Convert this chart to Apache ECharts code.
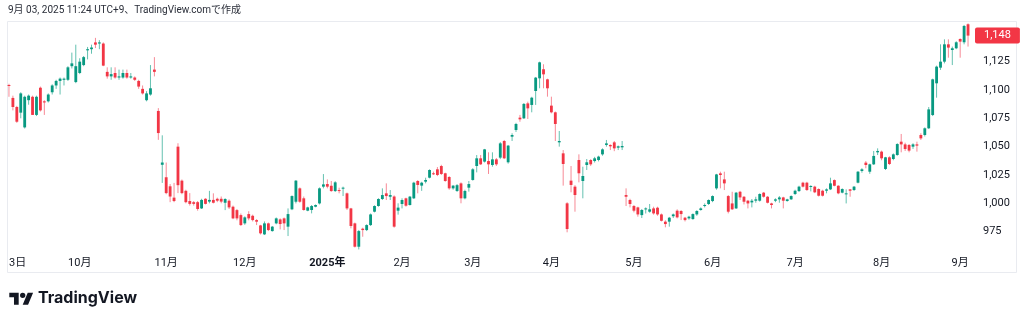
<!DOCTYPE html>
<html>
<head>
<meta charset="utf-8">
<script src="https://cdn.jsdelivr.net/npm/echarts@6/dist/echarts.min.js"></script>
<style>
  html, body { margin: 0; padding: 0; background: #ffffff; }
  #chart { width: 1024px; height: 322px; }
</style>
</head>
<body>
<div id="chart"></div>
<script>
// Daily candles, [open, high, low, close]
const candles = [
  // 2024-09
  [1104.4,1105.5,1094,1103.5],[1093,1095,1082,1085],[1085,1086,1071,1072],[1080,1098,1075,1097],
  [1067,1095,1066,1094],[1091,1096,1087,1095],[1094,1095,1078,1078],[1078,1095,1077,1094],
  [1102,1103,1081,1082],[1090,1091,1078,1089],[1090,1097,1089,1096],[1098,1105,1096,1104],
  [1104,1109,1101,1108],[1108,1111,1096,1110],[1109,1111,1104,1110],[1109,1121,1108,1120],
  [1121,1133,1119,1123.5],[1107,1140,1106,1121],
  // 2024-10
  [1115,1128,1114,1125],[1122,1130,1121,1129],[1135,1138,1127,1136],[1136,1140,1132,1137.5],
  [1142,1146,1137,1140],[1141,1144,1136,1142],[1141,1142,1121,1121.5],[1116,1120,1110,1112],
  [1112,1120,1109,1114],[1115,1120,1110,1111],[1111,1118,1109,1112],[1111,1118,1110,1115],
  [1115,1118,1110,1111],[1111,1115,1110,1112],[1111,1112,1108,1109],[1108,1109,1101,1103],
  [1101,1104,1096,1097],[1091,1099,1090,1097],[1096,1122,1095,1101.5],[1118,1129,1112,1116],
  [1081.5,1084,1056,1062],[1034,1060,1018,1036],
  // 2024-11
  [1023,1036,1008,1009],[1015,1017,1001,1006],[1005,1018,1001,1002],[1050,1053,1009,1016],
  [1020,1021,1008,1009],[1011,1012,1000,1001],[1002,1009,998,999.5],[1001,1002,998,999.5],
  [1001,1002,993.5,995],[995.5,1004,995,1003],[1004,1004.5,999,999.5],[1001.5,1011,1000,1003],
  [1003,1008.8,999.9,1000.5],[1004,1005,1001,1002.3],[1004,1006,1000,1001.5],[1000.5,1004.5,994,1003.8],
  [1002.3,1003.5,995,996.4],[997,998,986,986.7],[994,995,985,986.7],[989.6,991,980,980.8],
  // 2024-12
  [982.3,988.5,981,987.6],[990.5,993,985,986.7],[989,990,984,985.2],[985.2,986,980.8,983.8],
  [980.5,981,972.5,973.5],[972.6,984,972,982.3],[982.3,983,975.5,976.4],[975.5,980,975,979.4],
  [982.3,987.5,981.5,986.7],[985.8,986.7,977,981.7],[986.7,987.5,976.4,982.3],[979.4,995.5,971.1,990.5],
  [994.7,1007,994,1006.4],[1001.4,1020.5,999.9,1020],[1013.2,1014,1000.5,1001.4],[1004.4,1006,993.5,994.1],
  [993.5,997,993,996.4],[994.1,998.5,991.1,997.6],[997,999,996.5,998.5],[999.9,1014,999,1013.2],
  [1014.7,1025.8,1013.2,1016.7],
  // 2025-01
  [1017,1021.1,1013.2,1014.7],[1015.5,1019.7,1010.2,1010.8],[1010.8,1019.5,1010,1018.5],[1011.7,1013.8,1008.8,1010.8],
  [1013.2,1014.7,1006.4,1013.8],[1008.8,1009.5,994.1,995.5],[995.5,996,977.9,980],[982.3,983,961,961.7],
  [961.7,976.5,959.3,975.5],[977.6,978.5,970.5,976.4],[976.4,981.5,975.5,980.8],[980.8,991,980,990.2],
  [992.6,998.2,992,997.6],[997.6,1004.5,997,1003.8],[1003.8,1013.2,1002.9,1007.3],[1008.8,1017.6,1002.9,1006.4],
  [1005.8,1011.7,1002.9,1007.3],[1006,1007,978.5,979.4],[993.5,1000,990,996.2],
  // 2025-02
  [999.4,1004.4,995.5,1002.9],[1004.4,1005,997,997.9],[998.5,1006.5,998,1005.9],[1004.4,1019,1003.8,1018.2],
  [1019.7,1020.5,1008.8,1016.2],[1015.6,1019,1011,1018.2],[1019.1,1022.6,1017.6,1020.6],[1022.6,1030,1022,1029.4],
  [1026.5,1028,1025,1025.6],[1030,1032,1024,1025],[1032.9,1034,1025,1025.9],[1026.5,1027,1019,1019.7],
  [1023.2,1024,1012,1013.2],[1013.2,1016,1012,1015.6],[1010.9,1017,1010,1016],[1017.6,1018.5,1000,1004.4],
  [1004.4,1012,1003.5,1010.9],[1013.8,1019.7,1010.3,1017],
  // 2025-03
  [1020.6,1031,1020,1030],[1032.9,1042.6,1027.3,1039.7],[1039.7,1042.6,1033.8,1034.4],[1036.8,1048,1036,1047.6],
  [1037.3,1045,1025.9,1034.4],[1033.8,1045,1032.3,1038.8],[1038.8,1040,1033,1034.4],[1040.3,1054,1039,1052.9],
  [1055,1055.9,1039,1039.7],[1036.2,1051.5,1035,1050.9],[1058.8,1061.8,1055,1060.3],[1064.7,1071,1063,1070],
  [1075.6,1078,1072,1074.1],[1075,1088.5,1074.4,1087.7],[1088.2,1089.7,1074.4,1083.8],[1086.8,1094,1080.3,1093.2],
  [1099.1,1111.5,1086.8,1110.9],[1110.3,1125,1101.5,1124.4],[1118.3,1122.7,1101.5,1113.8],[1109.4,1110,1094.1,1101.5],
  // 2025-04
  [1086.2,1094.1,1079.4,1080.3],[1080.3,1081,1055,1070],[1053.8,1063.8,1050,1055],[1044.1,1047,1015.6,1034.7],
  [1000,1001,974.4,977.3],[1020,1032.9,1009.7,1016.2],[1014.7,1016,992.6,1007.3],[1038.2,1043.2,1018.5,1026.5],
  [1019.7,1032.3,1004.4,1024.1],[1033.8,1039.1,1029.4,1036.2],[1038.2,1039,1033,1034.4],[1037.3,1041,1036,1039.7],
  [1038.2,1042,1037,1041.2],[1043.2,1048.5,1042,1047.6],[1051.5,1055.9,1050,1052.9],[1051.5,1052,1047,1050.3],
  [1053.8,1055,1046,1048.5],[1049.1,1051,1047,1050.3],[1049.4,1055,1047,1050.6],[1007.3,1013.2,997.6,1005.8],
  [1002.9,1004,996.4,999.4],
  // 2025-05
  [997.6,998.5,992,993.5],[996.4,997,988.2,990.2],[989.6,995,987,994.1],[994.7,996.4,991,995.5],
  [992.6,999.4,991.7,994.7],[995.5,997,990,991.1],[996.1,997,989,990.2],[990.2,991,984,984.6],
  [983.8,985,978.8,981.7],[983.8,988,979.4,987.3],[988.6,991,987,990.2],[993.5,994.7,986.7,987.6],
  [993.2,994,985.2,990.5],[987.3,988,984,985.2],[986.7,989,985.5,988.2],[986.1,991.1,985.5,990.5],
  [990.2,994,989,993.2],[994.1,996.4,993.5,995.5],[997.6,999.9,996.4,998.5],[999.4,1003.5,998.5,1002.9],
  // 2025-06
  [1002,1007,1001,1006.4],[1013.2,1026,1012,1025.5],[1026.4,1027.9,1013.2,1025],[1021.1,1027.9,1011.7,1017.6],
  [1006.4,1007.3,991.1,992.6],[999.9,1010.2,994.1,994.7],[995.5,1010,995,1009.4],[1010.2,1011,1002.9,1005.2],
  [1005.8,1006.4,999,1001.4],[1002.3,1003,995.5,999.9],[1000.8,1003.8,996.4,1002.3],[1002.3,1005.8,1000.5,1003.5],
  [1002.3,1008.8,1001.5,1008.2],[1009.4,1010,1005,1005.8],[1005.8,1006.4,999.9,1000.5],[999.9,1000.5,995.5,998.5],
  [1002.3,1004.4,1001,1003.5],[1003.5,1006.4,1000.5,1005.2],[1005.2,1005.8,995.5,1002.3],[1002,1004,1001.5,1003.5],
  [1003.5,1007,1003,1006.4],
  // 2025-07
  [1008.2,1012,1007.3,1011.1],[1010.8,1015.5,1010,1014.7],[1018.2,1019,1014,1014.7],[1018.2,1019,1011,1011.7],
  [1014.7,1016,1010.5,1015.3],[1014.7,1015.5,1009,1009.7],[1012.6,1013.2,1006,1006.7],[1011.1,1012,1006,1006.7],
  [1011.1,1013.2,1008.8,1012.3],[1012.3,1022.6,1011.7,1017.6],[1020.5,1021.1,1015,1015.5],[1015.5,1016,1008,1008.8],
  [1009.4,1013.2,1008.8,1012.6],[1008.2,1012.3,999.9,1008.8],[1012.3,1012.6,1005.8,1011.1],[1011.7,1015.3,1011,1014.7],
  [1018.2,1028.5,1017.6,1027.9],[1028.5,1031,1027,1030],[1035.9,1037.3,1030.9,1033.8],[1027.9,1035,1026,1034.4],
  [1034.4,1046.2,1033.8,1041.8],[1045,1048.5,1042.6,1046.2],
  // 2025-08
  [1045.6,1046.5,1038,1039.7],[1030.3,1041,1029.4,1040.6],[1040.6,1041.5,1033.8,1034.7],[1039.1,1044,1038,1043.2],
  [1042.6,1053,1042,1052.3],[1054.4,1061.2,1045,1052],[1052,1053.5,1046.2,1047.9],[1051.5,1052.3,1045,1046.5],
  [1050,1053,1048,1052],[1052,1054.4,1045.6,1050.9],[1060.3,1061.8,1055.9,1057.3],[1060.3,1067,1059,1066.2],
  [1066.2,1085,1065.6,1082.9],[1077.9,1110,1077,1109.4],[1105.9,1121.5,1093.2,1120.6],[1119.7,1140.3,1117.7,1125],
  [1125,1144.7,1123.5,1140.3],[1140.3,1144.7,1128.5,1137.4],[1135.3,1138.3,1122,1136.8],[1136.8,1143,1136,1142.1],
  // 2025-09
  [1145,1145.6,1128.5,1142.7],[1142.1,1157.4,1140.3,1156.5],[1158,1158.8,1138.3,1148]
];

// Tokyo exchange closures inside the range
const holidays = [
  '2024-09-16','2024-09-23','2024-10-14','2024-11-04','2024-12-31',
  '2025-01-01','2025-01-02','2025-01-03','2025-01-13','2025-02-11','2025-02-24',
  '2025-03-20','2025-04-29','2025-05-05','2025-05-06','2025-07-21','2025-08-11'
];
const firstDay = '2024-09-03';
const priceTicks = [975, 1000, 1025, 1050, 1075, 1100, 1125];
const headerText = '9月 03, 2025 11:24 UTC+9、TradingView.comで作成';

const UP = '#089981', DOWN = '#F23645';
const UP_WICK = '#64c1b0', DOWN_WICK = '#f78a96';

// trading-day categories
function tradingDays(start, n) {
  const out = [];
  const p = start.split('-').map(Number);
  let t = Date.UTC(p[0], p[1] - 1, p[2]);
  while (out.length < n) {
    const d = new Date(t);
    const s = d.toISOString().slice(0, 10);
    const wd = d.getUTCDay();
    if (wd !== 0 && wd !== 6 && holidays.indexOf(s) < 0) out.push(s);
    t += 86400000;
  }
  return out;
}
const dates = tradingDays(firstDay, candles.length);

function isLabelIdx(i) {
  return i === 0 || dates[i].slice(5, 7) !== dates[i - 1].slice(5, 7);
}

const seriesData = candles.map((c, i) => [i, c[0], c[1], c[2], c[3]]);
const lastClose = candles[candles.length - 1][3];

const chart = echarts.init(document.getElementById('chart'), null, { renderer: 'canvas' });

const FONT = "Roboto, 'Noto Sans CJK JP', sans-serif";

// TradingView mark, in a 36x18 design box
const logoScale = 0.67;
function logoPts(pts) {
  return pts.map(p => [9.3 + p[0] * logoScale, 290 + p[1] * logoScale]);
}

const GRID = { left: 7, top: 22, width: 963, height: 228 };

chart.setOption({
  backgroundColor: '#ffffff',
  animation: false,
  grid: GRID,
  xAxis: {
    type: 'category',
    data: dates,
    boundaryGap: true,
    axisLine: { show: false },
    axisTick: { show: false },
    splitLine: { show: false },
    axisLabel: {
      interval: (i) => isLabelIdx(i),
      hideOverlap: false,
      alignMinLabel: 'left',
      margin: 8,
      fontSize: 11,
      fontFamily: FONT,
      color: '#131722',
      formatter: function (v, i) {
        const m = Number(v.slice(5, 7));
        if (i === 0) return Number(v.slice(8, 10)) + '日';
        if (m === 1) return '{y|' + v.slice(0, 4) + '年}';
        return m + '月';
      },
      rich: { y: { fontWeight: 'bold', fontSize: 11, fontFamily: FONT, color: '#131722' } }
    }
  },
  yAxis: {
    type: 'value',
    position: 'right',
    min: 958.8,
    max: 1160,
    axisLine: { show: false },
    axisTick: { show: false },
    splitLine: { show: false },
    axisLabel: {
      customValues: priceTicks,
      margin: 13,
      fontSize: 11,
      fontFamily: FONT,
      color: '#131722',
      formatter: (v) => Number(v).toLocaleString('en-US')
    }
  },
  series: [{
    type: 'custom',
    data: seriesData,
    encode: { x: 0, y: [1, 2, 3, 4] },
    clip: true,
    renderItem: function (params, api) {
      const idx = api.value(0);
      const o = api.value(1), h = api.value(2), l = api.value(3), c = api.value(4);
      const pO = api.coord([idx, o]);
      const pC = api.coord([idx, c]);
      const pH = api.coord([idx, h]);
      const pL = api.coord([idx, l]);
      const band = api.size([1, 0])[0];
      const bw = band * 0.72;
      const up = c >= o;
      const x = pO[0];
      const top = Math.min(pO[1], pC[1]);
      const hgt = Math.max(Math.abs(pO[1] - pC[1]), 1);
      return {
        type: 'group',
        children: [
          {
            type: 'line',
            shape: { x1: x, y1: pH[1], x2: x, y2: pL[1] },
            style: { stroke: up ? UP_WICK : DOWN_WICK, lineWidth: 1 }
          },
          {
            type: 'rect',
            shape: { x: x - bw / 2, y: top, width: bw, height: hgt },
            style: { fill: up ? UP : DOWN }
          }
        ]
      };
    }
  }],
  graphic: [
    {
      type: 'text',
      x: 8,
      y: 6,
      style: {
        text: headerText,
        fontSize: 10,
        fontFamily: FONT,
        fill: '#2a2e39'
      }
    },
    {
      type: 'rect',
      shape: { x: 7.5, y: 21.5, width: 1009, height: 251 },
      style: { fill: 'none', stroke: '#e9ebf0', lineWidth: 1 },
      silent: true
    },
    {
      type: 'polygon',
      shape: { points: logoPts([[14, 22], [7, 22], [7, 11], [0, 11], [0, 4], [14, 4]]) },
      style: { fill: '#131722' }
    },
    {
      type: 'polygon',
      shape: { points: logoPts([[28, 22], [20, 22], [27.5, 4], [35.5, 4]]) },
      style: { fill: '#131722' }
    },
    {
      type: 'circle',
      shape: { cx: 9.3 + 20 * logoScale, cy: 290 + 8 * logoScale, r: 4 * logoScale },
      style: { fill: '#131722' }
    },
    {
      type: 'text',
      x: 38,
      y: 298.5,
      style: {
        text: 'TradingView',
        fontSize: 16,
        fontWeight: 700,
        fontFamily: "Inter, Roboto, sans-serif",
        fill: '#131722',
        verticalAlign: 'middle'
      }
    }
  ]
});

// last-price tag on the price scale, placed through the y axis
const tagY = chart.convertToPixel({ yAxisIndex: 0 }, lastClose);
const tagX = GRID.left + GRID.width + 5;
chart.setOption({
  graphic: [{
    type: 'text',
    id: 'lastPrice',
    x: tagX,
    y: tagY,
    style: {
      text: lastClose.toLocaleString('en-US'),
      fontSize: 11,
      fontFamily: FONT,
      fill: '#ffffff',
      verticalAlign: 'middle',
      backgroundColor: DOWN,
      padding: [3, 9, 2, 9],
      borderRadius: 2
    }
  }]
});
</script>
</body>
</html>
